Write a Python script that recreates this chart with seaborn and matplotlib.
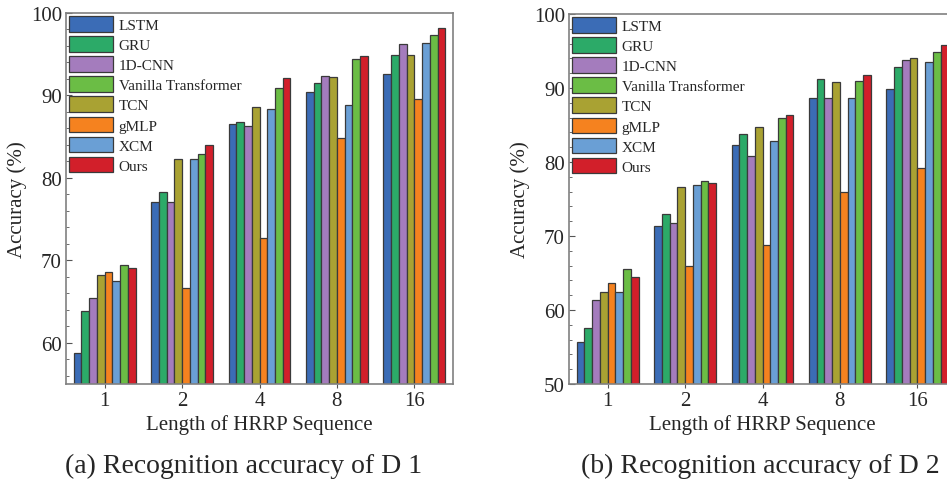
import matplotlib
matplotlib.use("Agg")
import matplotlib.pyplot as plt
from matplotlib.ticker import MultipleLocator
import seaborn as sns
import pandas as pd

sns.set_style("white")
plt.rcParams['font.family'] = ['Liberation Serif', 'DejaVu Serif']

lengths = ["1", "2", "4", "8", "16"]
# bar (hue) order inside each group
models = ["LSTM", "GRU", "1D-CNN", "TCN", "gMLP", "XCM", "Vanilla Transformer", "Ours"]
legend_order = ["LSTM", "GRU", "1D-CNN", "Vanilla Transformer", "TCN", "gMLP", "XCM", "Ours"]
colors = {
    "LSTM": "#3b6cb6",
    "GRU": "#2caa68",
    "1D-CNN": "#a47cbd",
    "Vanilla Transformer": "#6bbd45",
    "TCN": "#a9a233",
    "gMLP": "#f5821f",
    "XCM": "#6a9fd5",
    "Ours": "#d21f2a",
}

# Dataset D1 accuracies (%) per model, by sequence length 1,2,4,8,16
d1_lstm = [58.8, 77.1, 86.5, 90.4, 92.6]
d1_gru = [63.9, 78.3, 86.8, 91.5, 94.9]
d1_cnn = [65.4, 77.1, 86.3, 92.4, 96.3]
d1_tcn = [68.2, 82.3, 88.6, 92.2, 94.9]
d1_gmlp = [68.6, 66.6, 72.7, 84.8, 89.6]
d1_xcm = [67.5, 82.3, 88.3, 88.9, 96.4]
d1_vt = [69.4, 82.9, 90.9, 94.4, 97.3]
d1_ours = [69.1, 84.0, 92.1, 94.8, 98.2]

# Dataset D2 accuracies (%)
d2_lstm = [55.7, 71.4, 82.3, 88.6, 89.8]
d2_gru = [57.6, 73.0, 83.8, 91.2, 92.9]
d2_cnn = [61.4, 71.7, 80.8, 88.6, 93.8]
d2_tcn = [62.4, 76.6, 84.7, 90.8, 94.1]
d2_gmlp = [63.6, 66.0, 68.8, 76.0, 79.2]
d2_xcm = [62.5, 76.9, 82.8, 88.7, 93.5]
d2_vt = [65.5, 77.4, 85.9, 90.9, 94.9]
d2_ours = [64.4, 77.2, 86.4, 91.8, 95.8]

d1 = [d1_lstm, d1_gru, d1_cnn, d1_tcn, d1_gmlp, d1_xcm, d1_vt, d1_ours]
d2 = [d2_lstm, d2_gru, d2_cnn, d2_tcn, d2_gmlp, d2_xcm, d2_vt, d2_ours]


def to_df(vals):
    rows = []
    for m, series in zip(models, vals):
        for L, v in zip(lengths, series):
            rows.append({"Length": L, "Model": m, "Accuracy": v})
    return pd.DataFrame(rows)


fig = plt.figure(figsize=(9.47, 4.85), dpi=100)
W, H = 947, 485
axA = fig.add_axes([66 / W, 1 - 385 / H, 387 / W, 371 / H])
axB = fig.add_axes([569 / W, 1 - 385 / H, 387 / W, 370 / H])

specs = [(axA, d1, (55, 100), "(a) Recognition accuracy of D 1", 244 / W),
         (axB, d2, (50, 100), "(b) Recognition accuracy of D 2", 760 / W)]

for ax, vals, ylim, caption, cx in specs:
    df = to_df(vals)
    sns.barplot(data=df, x="Length", y="Accuracy", hue="Model", order=lengths,
                hue_order=models, palette=colors, width=0.8, ax=ax,
                edgecolor="#3a3a3a", linewidth=0.9, saturation=1, legend=True)
    ax.set_ylim(*ylim)
    ax.set_xlim(-0.5, 4.5)
    ax.yaxis.set_major_locator(MultipleLocator(10))
    ax.yaxis.set_minor_locator(MultipleLocator(2))
    ax.tick_params(axis="y", which="both", direction="in", left=True,
                   labelsize=15, color="#555555", pad=3)
    ax.tick_params(axis="y", which="major", length=4)
    ax.tick_params(axis="y", which="minor", length=2)
    ax.tick_params(axis="x", direction="out", bottom=True, length=3,
                   labelsize=15, color="#555555", pad=2)
    for s in ax.spines.values():
        s.set_color("#808080")
        s.set_linewidth(1.2)
    ax.set_ylabel("Accuracy (%)", fontsize=15, labelpad=3)
    ax.set_xlabel("Length of HRRP Sequence", fontsize=15, labelpad=3)
    handles, labels = ax.get_legend_handles_labels()
    hmap = dict(zip(labels, handles))
    ax.legend([hmap[k] for k in legend_order], legend_order, loc="upper left",
              frameon=False, fontsize=11, handlelength=2.9, handleheight=1.2,
              labelspacing=0.27, handletextpad=0.35, borderpad=0.0,
              borderaxespad=0.2, bbox_to_anchor=(0.0, 1.0))
    fig.text(cx, 1 - 466 / H, caption, ha="center", va="center", fontsize=20)

fig.savefig("out.png", dpi=100)
